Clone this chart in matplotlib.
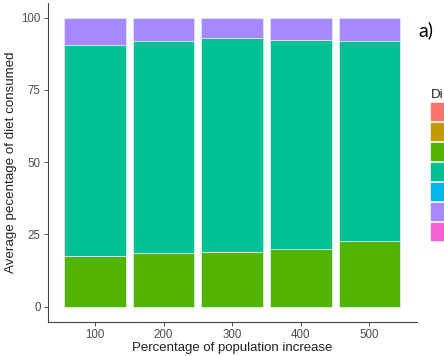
import matplotlib
matplotlib.use("Agg")
import matplotlib.pyplot as plt
from matplotlib.patches import Rectangle
import numpy as np

plt.rcParams['font.family'] = ['Liberation Sans', 'DejaVu Sans']

# data
increase = ["100", "200", "300", "400", "500"]
green = [17.5, 18.5, 19.0, 20.0, 22.7]
teal = [73.2, 73.3, 74.1, 72.4, 69.1]
purple = [9.3, 8.2, 6.9, 7.6, 8.2]

# ggplot hue palette for the 7 diet items (legend is cut off)
legend_cols = ['#F8766D', '#C49A00', '#53B400', '#00C094', '#00B6EB', '#A58AFF', '#FB61D7']

fig = plt.figure(figsize=(4.44, 3.56), dpi=100)
ax = fig.add_axes([47.7/444, 34.3/356, 369/444, 318.7/356])

x = np.arange(1, len(increase)+1)
w = 0.9
ec = '#e8f5ee'
ax.bar(x, green, w, color='#53B400', edgecolor=ec, linewidth=0.5)
ax.bar(x, teal, w, bottom=green, color='#00C094', edgecolor=ec, linewidth=0.5)
bot = np.array(green) + np.array(teal)
ax.bar(x, purple, w, bottom=bot, color='#A58AFF', edgecolor='#ece6ff', linewidth=0.5)

ax.set_xlim(0.31, 5.69)
ax.set_ylim(-5.2, 105.1)
ax.set_xticks(x)
ax.set_xticklabels(increase)
ax.set_yticks([0, 25, 50, 75, 100])
ax.tick_params(colors='#333333', labelcolor='#4D4D4D', labelsize=8.3, length=3, width=0.6, pad=2)
for s in ['top', 'right']:
    ax.spines[s].set_visible(False)
for s in ['left', 'bottom']:
    ax.spines[s].set_color('#444444')
    ax.spines[s].set_linewidth(0.8)
ax.set_xlabel("Percentage of population increase", fontsize=9.5, color='#222222', labelpad=1)
ax.set_ylabel("Average pecentage of diet consumed", fontsize=9.6, color='#222222', labelpad=3)

# legend (cut off at the right edge of the picture)
fig.text(430.5/444, 1 - 95/356, "Di", fontsize=9.5, color='#222222', va='center', ha='left')
for i, c in enumerate(legend_cols):
    y0 = 103.3 + i*19.9
    fig.patches.append(Rectangle((431/444, 1 - (y0+17)/356), 20/444, 17/356,
                                 transform=fig.transFigure, color=c, zorder=3))

fig.text(418/444, 1 - 30.5/356, "a)", fontsize=14, family=['Lato', 'DejaVu Sans'], va='center', ha='left')

fig.savefig("out.png", dpi=100)
